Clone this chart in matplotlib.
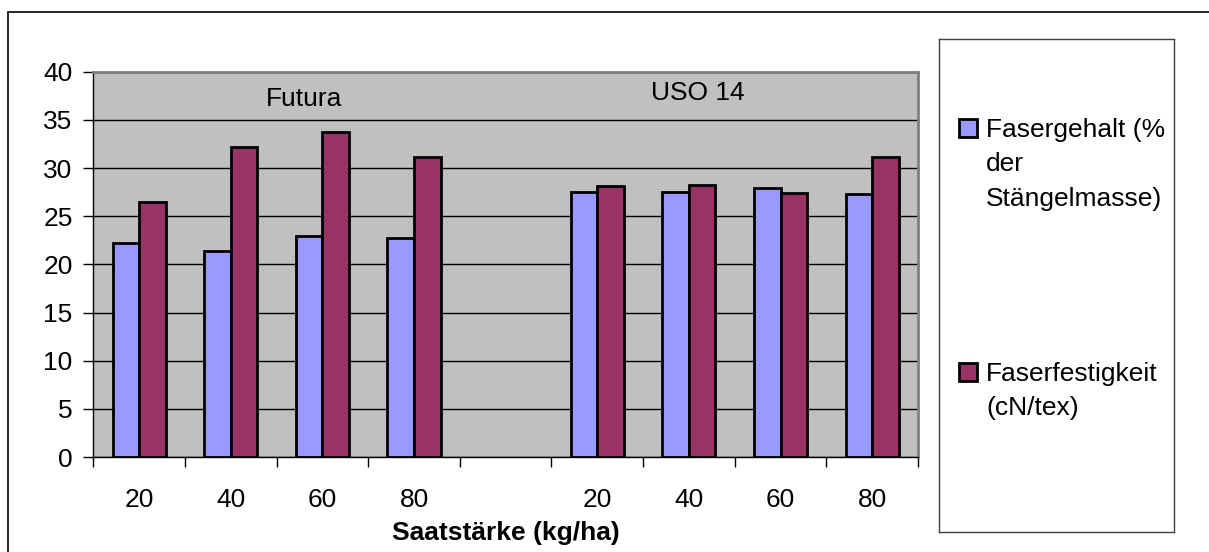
import numpy as np
import matplotlib.pyplot as plt
from matplotlib.patches import Rectangle

plt.rcParams['font.family'] = ['Liberation Sans', 'DejaVu Sans']

saatstaerke = ["20", "40", "60", "80", "", "20", "40", "60", "80"]
sorten = ["Futura", "USO 14"]

# Fasergehalt (% der Stängelmasse) und Faserfestigkeit (cN/tex), Lücke zwischen den Sorten
fasergehalt = [22.2, 21.4, 22.9, 22.7, np.nan, 27.5, 27.5, 27.9, 27.3]
faserfestigkeit = [26.5, 32.2, 33.7, 31.1, np.nan, 28.1, 28.2, 27.4, 31.2]

legende = [["Fasergehalt (%", "der", "Stängelmasse)"],
           ["Faserfestigkeit", "(cN/tex)"]]

blau = "#9999FF"
rot = "#993366"

fig = plt.figure(figsize=(12.09, 5.52), dpi=100)
ax = fig.add_axes([0.0772, 0.1721, 0.6821, 0.6979])
ax.set_facecolor("#C0C0C0")

x = np.arange(len(saatstaerke))
w = 0.29
ax.bar(x - w / 2, fasergehalt, w, color=blau, edgecolor="black", linewidth=2.0, zorder=3)
ax.bar(x + w / 2, faserfestigkeit, w, color=rot, edgecolor="black", linewidth=2.0, zorder=3)

ax.set_xlim(-0.5, len(saatstaerke) - 0.5)
ax.set_ylim(0, 40)
ax.set_yticks(range(0, 41, 5))
ax.yaxis.grid(True, color="black", linewidth=1.0, zorder=1)
ax.set_axisbelow(True)

ax.set_xticks(x)
ax.set_xticklabels(saatstaerke)
ax.set_xticks(np.arange(-0.5, len(saatstaerke)), minor=True)
ax.tick_params(axis="x", which="major", length=0, pad=22, labelsize=19)
ax.tick_params(axis="x", which="minor", length=7, width=1, direction="out")
ax.tick_params(axis="y", length=7, width=1, pad=8, labelsize=19)

for s in ["top", "right"]:
    ax.spines[s].set_color("#808080")
    ax.spines[s].set_linewidth(2)
for s in ["left", "bottom"]:
    ax.spines[s].set_color("black")
    ax.spines[s].set_linewidth(1)

ax.text(1.8, 37.2, sorten[0], ha="center", va="center", fontsize=19)
ax.text(6.1, 37.8, sorten[1], ha="center", va="center", fontsize=19)

ax.set_xlabel("Saatstärke (kg/ha)", fontsize=19, fontweight="bold")
ax.xaxis.set_label_coords(0.5, -0.165)

# Legendenkasten rechts, Koordinaten in Pixeln der Abbildung
lax = fig.add_axes([0.7767, 0.0362, 0.1944, 0.8931])
lax.set_xlim(939, 1174)
lax.set_ylim(532, 39)
lax.set_xticks([])
lax.set_yticks([])
for s in lax.spines.values():
    s.set_color("#404040")
    s.set_linewidth(1)

for farbe, zeilen, y0 in [(blau, legende[0], 137), (rot, legende[1], 381)]:
    lax.add_patch(Rectangle((959, y0 - 18), 18, 18, facecolor=farbe,
                            edgecolor="black", linewidth=2))
    for i, zeile in enumerate(zeilen):
        lax.text(986, y0 + i * 34.3, zeile, fontsize=19, va="baseline", ha="left")

# äußerer Rahmen
fig.patches.append(Rectangle((8 / 1209, -0.05), 1.1, 1.05 - 12 / 552,
                             transform=fig.transFigure, fill=False,
                             edgecolor="black", linewidth=1.2))

fig.savefig("out.png", dpi=100)
